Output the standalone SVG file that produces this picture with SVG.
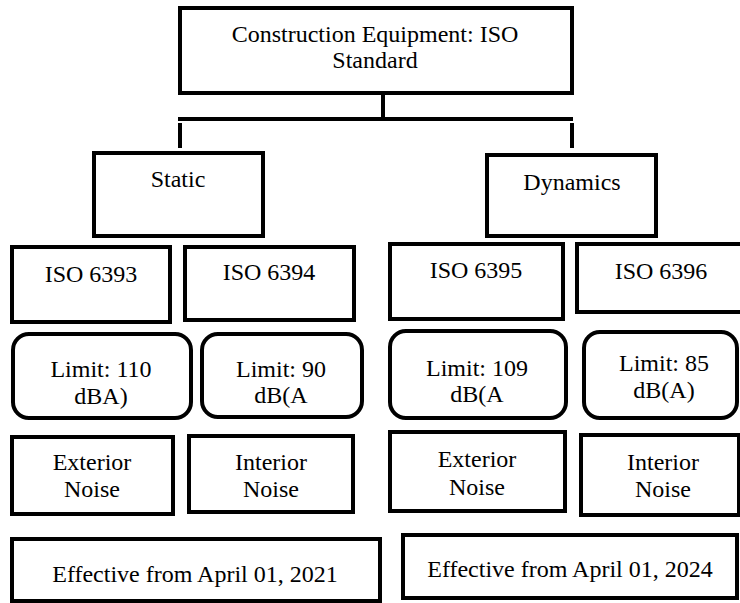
<svg xmlns="http://www.w3.org/2000/svg" width="740" height="603" viewBox="0 0 740 603">
  <style>
    .box { fill: #ffffff; stroke: #000000; stroke-width: 4; }
    .conn { stroke: #000000; stroke-width: 4; fill: none; }
    text { font-family: "Liberation Serif", "Times New Roman", "DejaVu Serif", serif; font-size: 24px; fill: #000000; text-anchor: middle; }
  </style>
  <rect width="740" height="603" fill="#ffffff"/>
  <g id="connectors">
    <line class="conn" x1="383" y1="93" x2="383" y2="119"/>
    <line class="conn" x1="178" y1="119" x2="573" y2="119"/>
    <line class="conn" x1="180" y1="123" x2="180" y2="148"/>
    <line class="conn" x1="572" y1="123" x2="572" y2="148"/>
  </g>
  <g id="root">
    <rect class="box" x="180" y="8" width="392" height="85"/>
    <text x="375" y="42">Construction Equipment: ISO</text>
    <text x="375" y="68">Standard</text>
  </g>
  <g id="static">
    <rect class="box" x="94" y="153" width="169" height="83"/>
    <text x="178" y="187">Static</text>
  </g>
  <g id="dynamics">
    <rect class="box" x="487" y="155" width="169" height="81"/>
    <text x="572" y="190">Dynamics</text>
  </g>
  <g id="iso6393">
    <rect class="box" x="12" y="247" width="158" height="75"/>
    <text x="91" y="282">ISO 6393</text>
  </g>
  <g id="iso6394">
    <rect class="box" x="185" y="247" width="169" height="73"/>
    <text x="269" y="280">ISO 6394</text>
  </g>
  <g id="iso6395">
    <rect class="box" x="390" y="244" width="173" height="75"/>
    <text x="476" y="278">ISO 6395</text>
  </g>
  <g id="iso6396">
    <rect class="box" x="577" y="244" width="170" height="68"/>
    <text x="661" y="279">ISO 6396</text>
  </g>
  <g id="limit110">
    <rect class="box" x="13" y="334" width="178" height="84" rx="16" ry="16"/>
    <text x="101" y="377">Limit: 110</text>
    <text x="101" y="404">dBA)</text>
  </g>
  <g id="limit90">
    <rect class="box" x="202" y="334" width="160" height="83" rx="16" ry="16"/>
    <text x="281" y="377">Limit: 90</text>
    <text x="281" y="403">dB(A</text>
  </g>
  <g id="limit109">
    <rect class="box" x="390" y="331" width="176" height="87" rx="16" ry="16"/>
    <text x="477" y="376">Limit: 109</text>
    <text x="477" y="402">dB(A</text>
  </g>
  <g id="limit85">
    <rect class="box" x="584" y="332" width="153" height="86" rx="16" ry="16"/>
    <text x="664" y="371">Limit: 85</text>
    <text x="664" y="398">dB(A)</text>
  </g>
  <g id="exterior-static">
    <rect class="box" x="12" y="437" width="161" height="77"/>
    <text x="92" y="470">Exterior</text>
    <text x="92" y="497">Noise</text>
  </g>
  <g id="interior-static">
    <rect class="box" x="189" y="436" width="164" height="76"/>
    <text x="271" y="470">Interior</text>
    <text x="271" y="497">Noise</text>
  </g>
  <g id="exterior-dynamic">
    <rect class="box" x="390" y="432" width="175" height="79"/>
    <text x="477" y="467">Exterior</text>
    <text x="477" y="495">Noise</text>
  </g>
  <g id="interior-dynamic">
    <rect class="box" x="581" y="435" width="158" height="80"/>
    <text x="663" y="470">Interior</text>
    <text x="663" y="497">Noise</text>
  </g>
  <g id="effective-2021">
    <rect class="box" x="12" y="539" width="368" height="62"/>
    <text x="195" y="582">Effective from April 01, 2021</text>
  </g>
  <g id="effective-2024">
    <rect class="box" x="403" y="535" width="334" height="63"/>
    <text x="570" y="577">Effective from April 01, 2024</text>
  </g>
</svg>
